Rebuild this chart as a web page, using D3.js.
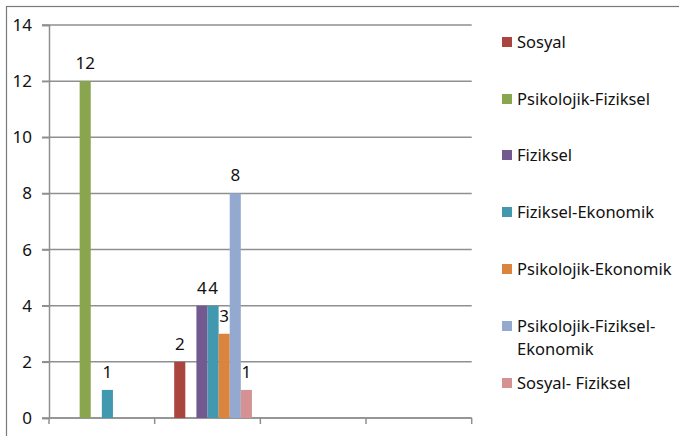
<!DOCTYPE html>
<html>
<head>
<meta charset="utf-8">
<script src="https://cdn.jsdelivr.net/npm/d3@7"></script>
<style>
  html, body { margin: 0; padding: 0; background: #fff; }
  svg { display: block; font-family: 'Noto Sans', 'Open Sans', sans-serif; }
</style>
</head>
<body>
<svg width="679" height="436"></svg>
<script>
// categories on the x axis (no labels shown in the original)
const categories = ['A', 'B', 'C', 'D'];
const yTicks = [0, 2, 4, 6, 8, 10, 12, 14];

const seriesNames = [
	'Sosyal',
	'Psikolojik-Fiziksel',
	'Fiziksel',
	'Fiziksel-Ekonomik',
	'Psikolojik-Ekonomik',
	'Psikolojik-Fiziksel-Ekonomik',
	'Sosyal- Fiziksel',
];
const seriesColors = ['#A9443F', '#89A54E', '#72598F', '#4298AE', '#DB843D', '#93A9D0', '#D49392'];

// one array per series, one value per category (null = empty cell)
const sosyal = [null, 2, null, null];
const psikFiz = [12, null, null, null];
const fiziksel = [null, 4, null, null];
const fizEko = [1, 4, null, null];
const psikEko = [null, 3, null, null];
const psikFizEko = [null, 8, null, null];
const sosyalFiz = [null, 1, null, null];
const seriesValues = [sosyal, psikFiz, fiziksel, fizEko, psikEko, psikFizEko, sosyalFiz];

const gridColor = '#8f8f8f';
const textColor = '#111';

const svg = d3.select('svg');

// outer chart border
svg.append('rect')
	.attr('x', 6.5)
	.attr('y', 6.5)
	.attr('width', 700)
	.attr('height', 460)
	.attr('fill', 'none')
	.attr('stroke', '#7a7a7a')
	.attr('stroke-width', 1.2);

const plotLeft = 49, plotRight = 471.7, plotTop = 25, plotBottom = 418;

const x0 = d3.scaleBand()
	.domain(categories)
	.range([plotLeft, plotRight]);

// the original has 8 slots per group, first one empty
const x1 = d3.scaleBand()
	.domain(d3.range(8))
	.range([0, x0.bandwidth()])
	.paddingOuter(0.76);

const y = d3.scaleLinear()
	.domain([0, 14])
	.range([plotBottom, plotTop]);

// gridlines
svg.append('g')
	.selectAll('line')
	.data(yTicks)
	.join('line')
		.attr('x1', plotLeft - 7)
		.attr('x2', plotRight)
		.attr('y1', d => y(d))
		.attr('y2', d => y(d))
		.attr('stroke', gridColor)
		.attr('stroke-width', 1.5);

// y axis
const yAxis = svg.append('g')
	.attr('transform', `translate(${plotLeft},0)`)
	.call(d3.axisLeft(y).tickValues(yTicks).tickSize(7).tickPadding(10));
yAxis.select('.domain').attr('stroke', gridColor).attr('stroke-width', 1.5);
yAxis.selectAll('.tick line').attr('stroke', gridColor).attr('stroke-width', 1.5);
yAxis.selectAll('.tick text')
	.attr('font-size', 17)
	.attr('font-family', "'Noto Sans', sans-serif")
	.attr('fill', textColor);

// x axis
const xEdges = categories.map(c => x0(c)).concat([plotRight]);
const xAxis = svg.append('g');
xAxis.append('line')
	.attr('x1', plotLeft)
	.attr('x2', plotRight)
	.attr('y1', plotBottom)
	.attr('y2', plotBottom)
	.attr('stroke', gridColor)
	.attr('stroke-width', 1.5);
xAxis.selectAll('.xtick')
	.data(xEdges)
	.join('line')
		.attr('class', 'xtick')
		.attr('x1', d => d)
		.attr('x2', d => d)
		.attr('y1', plotBottom)
		.attr('y2', plotBottom + 6)
		.attr('stroke', gridColor)
		.attr('stroke-width', 1.5);

// bars
const bars = [];
seriesValues.forEach((vals, s) => {
	vals.forEach((v, c) => {
		if (v !== null) bars.push({ s, c: categories[c], v });
	});
});

svg.append('g')
	.selectAll('rect')
	.data(bars)
	.join('rect')
		.attr('x', d => x0(d.c) + x1(d.s + 1))
		.attr('width', x1.bandwidth())
		.attr('y', d => y(d.v))
		.attr('height', d => y(0) - y(d.v))
		.attr('fill', d => seriesColors[d.s]);

svg.append('g')
	.selectAll('text')
	.data(bars)
	.join('text')
		.attr('x', d => x0(d.c) + x1(d.s + 1) + x1.bandwidth() / 2)
		.attr('y', d => y(d.v) - 12)
		.attr('text-anchor', 'middle')
		.attr('font-size', 17)
		.attr('fill', textColor)
		.text(d => d.v);

// legend
const legendRows = [42, 99, 155, 212, 269, 326, 383];
const legend = svg.append('g');
seriesNames.forEach((name, i) => {
	const g = legend.append('g')
		.attr('transform', `translate(502,${legendRows[i]})`);
	g.append('rect')
		.attr('x', 0)
		.attr('y', -5)
		.attr('width', 10)
		.attr('height', 10)
		.attr('fill', seriesColors[i]);
	const lines = name === 'Psikolojik-Fiziksel-Ekonomik'
		? ['Psikolojik-Fiziksel-', 'Ekonomik']
		: [name];
	lines.forEach((ln, k) => {
		g.append('text')
			.attr('x', 15)
			.attr('y', k * 23)
			.attr('dy', '0.35em')
			.attr('font-size', 16.5)
			.attr('fill', textColor)
			.text(ln);
	});
});
</script>
</body>
</html>
